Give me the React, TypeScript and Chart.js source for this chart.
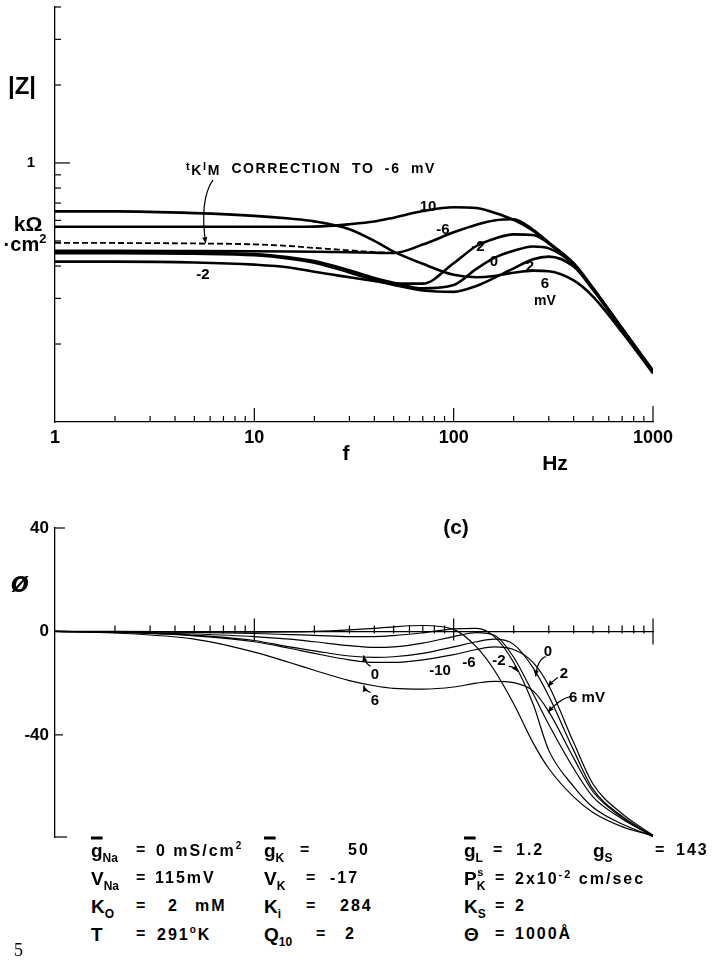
import React, { useEffect, useRef } from "react";
import { Chart, registerables } from "chart.js";
Chart.register(...registerables);

// ---------- data ----------
const F_HZ = [1, 2, 5, 10, 15, 20, 30, 40, 50, 70, 100, 130, 160, 200, 250, 300, 400, 500, 700, 1000];

// |Z| in kOhm·cm2, one series per membrane potential (mV)
const Z_VM10 = [0.567, 0.567, 0.567, 0.567, 0.567, 0.568, 0.58, 0.594, 0.615, 0.652, 0.675, 0.67, 0.643, 0.603, 0.548, 0.489, 0.405, 0.326, 0.228, 0.156];
const Z_VM6 = [0.458, 0.458, 0.457, 0.456, 0.455, 0.454, 0.452, 0.45, 0.449, 0.484, 0.54, 0.578, 0.6, 0.606, 0.552, 0.493, 0.408, 0.328, 0.23, 0.158];
const Z_VM2 = [0.416, 0.416, 0.413, 0.405, 0.395, 0.38, 0.362, 0.35, 0.342, 0.342, 0.41, 0.478, 0.51, 0.53, 0.527, 0.49, 0.41, 0.329, 0.23, 0.157];
const Z_V0 = [0.452, 0.452, 0.45, 0.445, 0.432, 0.418, 0.385, 0.36, 0.345, 0.328, 0.338, 0.39, 0.43, 0.458, 0.476, 0.468, 0.405, 0.327, 0.229, 0.157];
const Z_VP2 = [0.448, 0.448, 0.446, 0.44, 0.427, 0.412, 0.378, 0.353, 0.338, 0.322, 0.318, 0.335, 0.36, 0.392, 0.425, 0.435, 0.398, 0.324, 0.227, 0.156];
const Z_VP6 = [0.65, 0.65, 0.64, 0.625, 0.61, 0.595, 0.555, 0.5, 0.455, 0.408, 0.37, 0.362, 0.366, 0.377, 0.384, 0.382, 0.352, 0.305, 0.222, 0.154];
// t_K l_M correction to -6 mV (dashed)
const F_CORR = [1, 2, 5, 10, 15, 20, 30, 40, 50];
const Z_CORR = [0.492, 0.491, 0.489, 0.485, 0.478, 0.47, 0.46, 0.453, 0.449];

// phase (degrees)
const PH_VM10 = [0, 0, -0.2, -0.3, -0.2, 0, 0.6, 1.2, 1.8, 2.3, 0.8, -6, -15, -28, -43, -53, -64, -70, -75.5, -79];
const PH_VM6 = [0, -0.1, -0.4, -0.8, -1.2, -1.5, -2, -2, -1.6, -0.5, 1, 1.2, -2, -12, -28, -46, -60, -68, -74.5, -79.3];
const PH_VM2 = [0, -0.2, -1, -2, -3, -4, -5.5, -6.2, -6, -4.5, -2, -0.5, -1.5, -10, -24, -36, -53, -64, -72.5, -79];
const PH_V0 = [0, -0.3, -1.5, -3.5, -6, -7.5, -9.5, -10, -9.8, -8.5, -6, -4, -3, -5, -14, -25, -46, -61, -71.5, -79.2];
const PH_VP2 = [0, -0.3, -1.7, -4, -6.5, -8.5, -11, -12, -12, -11, -9, -7, -6, -7, -12, -21, -43, -59, -70.5, -78.8];
const PH_VP6 = [0, -0.6, -3, -8, -12, -15, -19, -21, -22, -22.3, -21.5, -20, -19.3, -19.8, -23, -31, -49, -62, -72, -79.4];

// axes
const X_LABELS = [1, 10, 100, 1000];
const Z_LABELS = [1];
const Z_TICKS = [0.1, 0.2, 0.3, 0.4, 0.5, 0.6, 0.7, 0.8, 0.9, 1, 2, 3, 4];
const PH_TICKS = [40, 0, -40];

const FONT = '"Liberation Sans", Arial, Helvetica, sans-serif';

function xTickValues() {
  const out: number[] = [];
  for (let d = 1; d < 1000; d *= 10) for (let k = 1; k < 10; k++) out.push(k * d);
  out.push(1000);
  return out;
}
const isPow10 = (v: number) => Math.abs(Math.log10(v) - Math.round(Math.log10(v))) < 1e-9;
const pts = (xs: number[], ys: number[]) => xs.map((x, i) => ({ x, y: ys[i] }));

function line(ctx: CanvasRenderingContext2D, x0: number, y0: number, x1: number, y1: number) {
  ctx.beginPath();
  ctx.moveTo(x0, y0);
  ctx.lineTo(x1, y1);
  ctx.stroke();
}
function arrow(ctx: CanvasRenderingContext2D, x0: number, y0: number, cx: number, cy: number, x1: number, y1: number) {
  ctx.beginPath();
  ctx.moveTo(x0, y0);
  ctx.quadraticCurveTo(cx, cy, x1, y1);
  ctx.stroke();
  const a = Math.atan2(y1 - cy, x1 - cx);
  const L = 6, W = 2.6;
  ctx.beginPath();
  ctx.moveTo(x1, y1);
  ctx.lineTo(x1 - L * Math.cos(a) + W * Math.sin(a), y1 - L * Math.sin(a) - W * Math.cos(a));
  ctx.lineTo(x1 - L * Math.cos(a) - W * Math.sin(a), y1 - L * Math.sin(a) + W * Math.cos(a));
  ctx.closePath();
  ctx.fill();
}

// annotation arrows in data coordinates [f, value]
const TOP_ARROWS = [{ from: [6.2, 0.86], ctrl: [5.3, 0.72], to: [5.7, 0.49] }];
const PH_ARROWS = [
  { from: [38.3, -13.5], ctrl: [36, -12.5], to: [35.3, -9.3] },
  { from: [38.3, -23.6], ctrl: [36, -23], to: [35.3, -20.9] },
  { from: [189, -13.5], ctrl: [200, -13.5], to: [210, -15.5] },
  { from: [290, -9.7], ctrl: [262, -11], to: [258, -17.4] },
  { from: [333, -17.8], ctrl: [315, -19], to: [297, -21.3] },
  { from: [387, -25.1], ctrl: [340, -26], to: [297, -31.3] },
];

function drawArrows(chart: any, list: any[]) {
  const { ctx, scales } = chart;
  const X = (v: number) => scales.x.getPixelForValue(v);
  const Y = (v: number) => scales.y.getPixelForValue(v);
  ctx.lineWidth = 1.2;
  for (const a of list) arrow(ctx, X(a.from[0]), Y(a.from[1]), X(a.ctrl[0]), Y(a.ctrl[1]), X(a.to[0]), Y(a.to[1]));
}

const topDecor = {
  id: "topDecor",
  afterDraw(chart: any) {
    const { ctx, chartArea: ca, scales } = chart;
    ctx.save();
    ctx.strokeStyle = "#000";
    ctx.fillStyle = "#000";
    ctx.lineWidth = 1.2;
    for (const t of scales.x.ticks) {
      if (t.value === 1) continue;
      const px = scales.x.getPixelForValue(t.value);
      const len = t.value === 1000 ? 16 : isPow10(t.value) ? 14 : 6;
      line(ctx, px, ca.bottom, px, ca.bottom - len);
    }
    for (const t of scales.y.ticks) {
      if (t.value === 0.1) continue;
      const py = scales.y.getPixelForValue(t.value);
      const len = t.value === 1 ? 15 : 6;
      line(ctx, ca.left, py, ca.left + len, py);
    }
    drawArrows(chart, TOP_ARROWS);
    ctx.restore();
  },
};

const phDecor = {
  id: "phDecor",
  afterDraw(chart: any) {
    const { ctx, chartArea: ca, scales } = chart;
    ctx.save();
    ctx.strokeStyle = "#000";
    ctx.fillStyle = "#000";
    ctx.lineWidth = 1.2;
    const y0 = scales.y.getPixelForValue(0);
    for (const t of scales.x.ticks) {
      if (t.value === 1) continue;
      const px = scales.x.getPixelForValue(t.value);
      let up = 6, down = 2;
      if (t.value === 1000) { up = 13; down = 13; }
      else if (isPow10(t.value)) { up = 13; down = 9; }
      line(ctx, px, y0 + down, px, y0 - up);
    }
    for (const t of scales.y.ticks) {
      if (t.value === 0) continue;
      const py = scales.y.getPixelForValue(t.value);
      line(ctx, ca.left, py, ca.left + (t.value > 0 ? 10 : 8), py);
    }
    line(ctx, ca.left, ca.bottom, ca.left + 12, ca.bottom);
    drawArrows(chart, PH_ARROWS);
    ctx.restore();
  },
};

function ds(xs: number[], ys: number[], w: number, dash: number[] = []) {
  return {
    data: pts(xs, ys),
    borderColor: "#000",
    borderWidth: w,
    borderDash: dash,
    pointRadius: 0,
    fill: false,
    cubicInterpolationMode: "monotone" as const,
  };
}

const zeroPad = (s: any) => {
  s.paddingTop = 0;
  s.paddingBottom = 0;
  s.paddingLeft = 0;
  s.paddingRight = 0;
};

function topConfig(): any {
  return {
    type: "line",
    data: {
      datasets: [
        ds(F_HZ, Z_VM10, 2.6),
        ds(F_HZ, Z_VM6, 2.6),
        ds(F_HZ, Z_VM2, 2.6),
        ds(F_HZ, Z_V0, 2.6),
        ds(F_HZ, Z_VP2, 2.6),
        ds(F_HZ, Z_VP6, 2.6),
        ds(F_CORR, Z_CORR, 1.8, [6, 3]),
      ],
    },
    options: {
      responsive: false,
      animation: false,
      layout: { padding: { top: 7, right: 59, left: 0, bottom: 0 } },
      plugins: { legend: { display: false }, tooltip: { enabled: false } },
      scales: {
        x: {
          type: "logarithmic",
          min: 1,
          max: 1000,
          afterBuildTicks: (s: any) => { s.ticks = xTickValues().map((v) => ({ value: v })); },
          afterFit: (s: any) => { s.height = 48; zeroPad(s); },
          grid: { display: false, drawTicks: false },
          border: { display: true, color: "#000", width: 1.3 },
          ticks: {
            autoSkip: false, maxRotation: 0, padding: 5, color: "#000",
            font: { family: FONT, size: 18, weight: "bold" },
            callback: (v: number) => (X_LABELS.includes(v) ? String(v) : ""),
          },
        },
        y: {
          type: "logarithmic",
          min: 0.1,
          max: 4,
          afterBuildTicks: (s: any) => { s.ticks = Z_TICKS.map((v) => ({ value: v })); },
          afterFit: (s: any) => { s.width = 55; zeroPad(s); },
          grid: { display: false, drawTicks: false },
          border: { display: true, color: "#000", width: 1.3 },
          ticks: {
            autoSkip: false, padding: 20, color: "#000",
            font: { family: FONT, size: 15, weight: "bold" },
            callback: (v: number) => (Z_LABELS.includes(v) ? String(v) : ""),
          },
        },
      },
    },
    plugins: [topDecor],
  };
}

function phConfig(): any {
  return {
    type: "line",
    data: {
      datasets: [
        ds(F_HZ, PH_VM10, 1.2),
        ds(F_HZ, PH_VM6, 1.2),
        ds(F_HZ, PH_VM2, 1.2),
        ds(F_HZ, PH_V0, 1.2),
        ds(F_HZ, PH_VP2, 1.2),
        ds(F_HZ, PH_VP6, 1.2),
      ],
    },
    options: {
      responsive: false,
      animation: false,
      layout: { padding: { top: 58, right: 59, left: 0, bottom: 33 } },
      plugins: { legend: { display: false }, tooltip: { enabled: false } },
      scales: {
        x: {
          type: "logarithmic",
          min: 1,
          max: 1000,
          position: { y: 0 },
          afterBuildTicks: (s: any) => { s.ticks = xTickValues().map((v) => ({ value: v })); },
          afterFit: (s: any) => { s.height = 0; zeroPad(s); },
          grid: { display: false, drawTicks: false },
          border: { display: true, color: "#000", width: 1.3 },
          ticks: { display: false },
        },
        y: {
          type: "linear",
          min: -79.5,
          max: 40,
          afterBuildTicks: (s: any) => { s.ticks = PH_TICKS.map((v) => ({ value: v })); },
          afterFit: (s: any) => { s.width = 55; zeroPad(s); },
          grid: { display: false, drawTicks: false },
          border: { display: true, color: "#000", width: 1.3 },
          ticks: {
            autoSkip: false, padding: 6, color: "#000",
            font: { family: FONT, size: 17, weight: "bold" },
            callback: (v: number) => String(v),
          },
        },
      },
    },
    plugins: [phDecor],
  };
}

// ---------- text helpers ----------
function T(props: { x: number; y: number; s: number; c?: boolean; st?: any; children: any }) {
  const { x, y, s, c = true, st = {}, children } = props;
  return (
    <div
      style={{
        position: "absolute", left: x, top: y,
        transform: c ? "translate(-50%,-50%)" : "translate(0,-50%)",
        fontFamily: FONT, fontWeight: "bold", fontSize: s, lineHeight: 1,
        whiteSpace: "nowrap", color: "#000", ...st,
      }}
    >
      {children}
    </div>
  );
}
const Sub = ({ children }: any) => (
  <span style={{ fontSize: 12, position: "relative", top: 5 }}>{children}</span>
);
const Bar = ({ children }: any) => (
  <span style={{ textDecoration: "overline", textDecorationThickness: 2.5 }}>{children}</span>
);
// value text: slightly smaller, typewriter-like spacing
const Vt = (props: { x: number; y: number; children: any }) => (
  <T x={props.x} y={props.y} s={16} c={false} st={{ letterSpacing: 2 }}>{props.children}</T>
);

export default function App() {
  const topRef = useRef<HTMLCanvasElement>(null);
  const botRef = useRef<HTMLCanvasElement>(null);
  useEffect(() => {
    const c1 = new Chart(topRef.current as HTMLCanvasElement, topConfig());
    const c2 = new Chart(botRef.current as HTMLCanvasElement, phConfig());
    return () => {
      c1.destroy();
      c2.destroy();
    };
  }, []);

  const L = 19; // label size
  const r1 = 850, r2 = 878, r3 = 906, r4 = 934;

  return (
    <div style={{ position: "absolute", left: 0, top: 0, width: 712, height: 967, background: "#fff", overflow: "hidden" }}>
      <canvas ref={topRef} width={712} height={470} style={{ position: "absolute", left: 0, top: 0, width: 712, height: 470 }} />
      <canvas ref={botRef} width={712} height={400} style={{ position: "absolute", left: 0, top: 470, width: 712, height: 400 }} />

      {/* top panel texts */}
      <T x={22} y={86} s={24}>|Z|</T>
      <T x={28} y={223} s={21}>kΩ</T>
      <T x={25} y={243} s={20}>·cm<sup style={{ fontSize: 13 }}>2</sup></T>
      <T x={186} y={168} s={14} c={false} st={{ letterSpacing: 1.6, wordSpacing: 5 }}>
        <span style={{ fontSize: 11, position: "relative", top: -3 }}>t</span>
        <span style={{ position: "relative", top: 2 }}>K</span>
        <span style={{ fontSize: 11, position: "relative", top: -3 }}>l</span>
        <span style={{ position: "relative", top: 2 }}>M</span> CORRECTION TO -6 mV
      </T>
      <T x={428} y={205} s={15}>10</T>
      <T x={443} y={228} s={15}>-6</T>
      <T x={478} y={245} s={15}>-2</T>
      <T x={494} y={260} s={15}>0</T>
      <T x={530} y={265} s={15}>2</T>
      <T x={545} y={282} s={15}>6</T>
      <T x={545} y={300} s={14}>mV</T>
      <T x={203} y={273} s={15}>-2</T>
      <T x={346} y={452} s={21}>f</T>
      <T x={555} y={462} s={21}>Hz</T>

      {/* phase panel texts */}
      <T x={20} y={582} s={30} st={{ fontStyle: "italic" }}>ø</T>
      <T x={456} y={526} s={21}>(c)</T>
      <T x={375} y={673} s={15}>0</T>
      <T x={375} y={699} s={15}>6</T>
      <T x={440} y={669} s={15}>-10</T>
      <T x={469} y={661} s={15}>-6</T>
      <T x={499} y={659} s={15}>-2</T>
      <T x={548} y={650} s={15}>0</T>
      <T x={564} y={672} s={15}>2</T>
      <T x={587} y={696} s={15}>6 mV</T>

      {/* parameter block */}
      <T x={91} y={r1} s={L} c={false}><Bar>g</Bar><Sub>Na</Sub></T>
      <Vt x={136} y={r1}>=</Vt>
      <Vt x={156} y={r1}>0 mS/cm<sup style={{ fontSize: 10 }}>2</sup></Vt>
      <T x={264} y={r1} s={L} c={false}><Bar>g</Bar><Sub>K</Sub></T>
      <Vt x={300} y={r1}>=</Vt>
      <Vt x={348} y={r1}>50</Vt>
      <T x={464} y={r1} s={L} c={false}><Bar>g</Bar><Sub>L</Sub></T>
      <Vt x={493} y={r1}>=</Vt>
      <Vt x={516} y={r1}>1.2</Vt>
      <T x={593} y={r1} s={L} c={false}>g<Sub>S</Sub></T>
      <Vt x={655} y={r1}>=</Vt>
      <Vt x={676} y={r1}>143</Vt>

      <T x={91} y={r2} s={L} c={false}>V<Sub>Na</Sub></T>
      <Vt x={136} y={r2}>=</Vt>
      <Vt x={155} y={r2}>115mV</Vt>
      <T x={264} y={r2} s={L} c={false}>V<Sub>K</Sub></T>
      <Vt x={306} y={r2}>=</Vt>
      <Vt x={330} y={r2}>-17</Vt>
      <T x={464} y={r2} s={L} c={false}>P<Sub>K</Sub><span style={{ fontSize: 11, position: "relative", top: -9, left: -8 }}>s</span></T>
      <Vt x={495} y={r2}>=</Vt>
      <Vt x={515} y={r2}>2x10<sup style={{ fontSize: 11 }}>-2</sup> cm/sec</Vt>

      <T x={91} y={r3} s={L} c={false}>K<Sub>O</Sub></T>
      <Vt x={136} y={r3}>=</Vt>
      <Vt x={168} y={r3}>2</Vt>
      <Vt x={195} y={r3}>mM</Vt>
      <T x={264} y={r3} s={L} c={false}>K<Sub>i</Sub></T>
      <Vt x={306} y={r3}>=</Vt>
      <Vt x={340} y={r3}>284</Vt>
      <T x={464} y={r3} s={L} c={false}>K<Sub>S</Sub></T>
      <Vt x={495} y={r3}>=</Vt>
      <Vt x={515} y={r3}>2</Vt>

      <T x={91} y={r4} s={L} c={false}>T</T>
      <Vt x={136} y={r4}>=</Vt>
      <Vt x={157} y={r4}>291<sup style={{ fontSize: 10 }}>o</sup>K</Vt>
      <T x={264} y={r4} s={L} c={false}>Q<Sub>10</Sub></T>
      <Vt x={316} y={r4}>=</Vt>
      <Vt x={345} y={r4}>2</Vt>
      <T x={464} y={r4} s={L} c={false}>Θ</T>
      <Vt x={495} y={r4}>=</Vt>
      <Vt x={515} y={r4}>1000Å</Vt>

      <div style={{ position: "absolute", left: 14, top: 940, fontFamily: '"Liberation Serif", serif', fontSize: 18, color: "#000" }}>5</div>
    </div>
  );
}
